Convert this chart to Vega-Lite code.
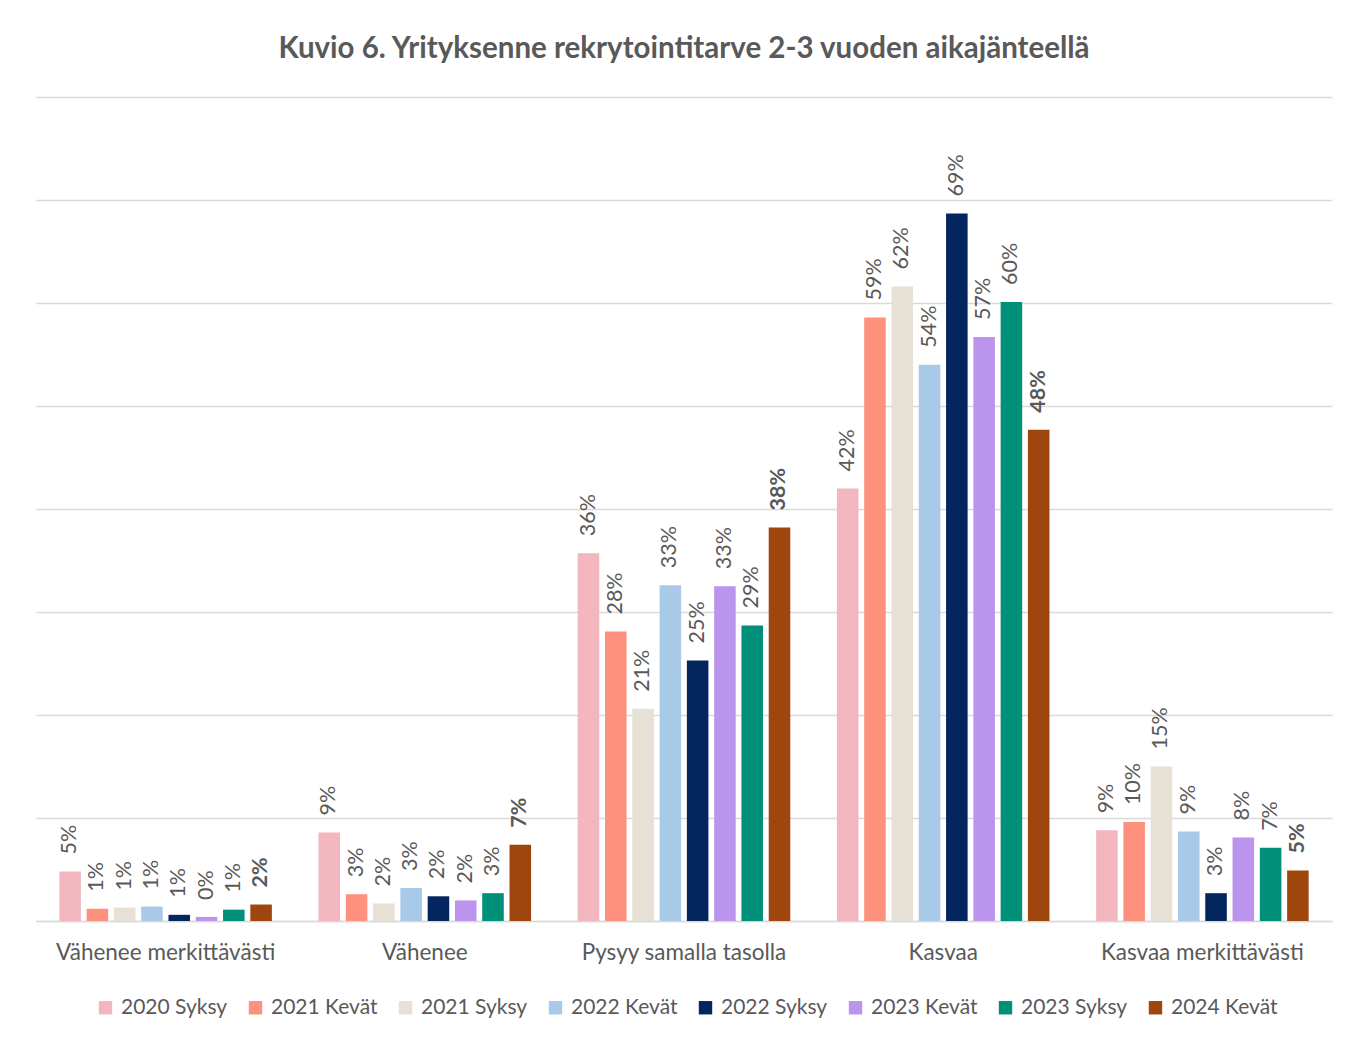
{
  "$schema": "https://vega.github.io/schema/vega-lite/v6.json",
  "width": 1296,
  "height": 824,
  "autosize": {"type": "none"},
  "padding": {"left": 36, "right": 35, "top": 97, "bottom": 120},
  "background": "white",
  "title": {
    "text": "Kuvio 6. Yrityksenne rekrytointitarve 2-3 vuoden aikajänteellä",
    "fontSize": 29.5,
    "fontWeight": "bold",
    "font": "Lato",
    "color": "#595959",
    "anchor": "middle",
    "offset": 33
  },
  "config": {
    "view": {"stroke": null},
    "font": "Lato"
  },
  "data": {
    "values": [
      {"k": "Vähenee merkittävästi", "s": "2020 Syksy", "v": 0.048},
      {"k": "Vähenee merkittävästi", "s": "2021 Kevät", "v": 0.012},
      {"k": "Vähenee merkittävästi", "s": "2021 Syksy", "v": 0.013},
      {"k": "Vähenee merkittävästi", "s": "2022 Kevät", "v": 0.014},
      {"k": "Vähenee merkittävästi", "s": "2022 Syksy", "v": 0.006},
      {"k": "Vähenee merkittävästi", "s": "2023 Kevät", "v": 0.004},
      {"k": "Vähenee merkittävästi", "s": "2023 Syksy", "v": 0.011},
      {"k": "Vähenee merkittävästi", "s": "2024 Kevät", "v": 0.016},
      {"k": "Vähenee", "s": "2020 Syksy", "v": 0.086},
      {"k": "Vähenee", "s": "2021 Kevät", "v": 0.026},
      {"k": "Vähenee", "s": "2021 Syksy", "v": 0.017},
      {"k": "Vähenee", "s": "2022 Kevät", "v": 0.032},
      {"k": "Vähenee", "s": "2022 Syksy", "v": 0.024},
      {"k": "Vähenee", "s": "2023 Kevät", "v": 0.020},
      {"k": "Vähenee", "s": "2023 Syksy", "v": 0.027},
      {"k": "Vähenee", "s": "2024 Kevät", "v": 0.074},
      {"k": "Pysyy samalla tasolla", "s": "2020 Syksy", "v": 0.357},
      {"k": "Pysyy samalla tasolla", "s": "2021 Kevät", "v": 0.281},
      {"k": "Pysyy samalla tasolla", "s": "2021 Syksy", "v": 0.206},
      {"k": "Pysyy samalla tasolla", "s": "2022 Kevät", "v": 0.326},
      {"k": "Pysyy samalla tasolla", "s": "2022 Syksy", "v": 0.253},
      {"k": "Pysyy samalla tasolla", "s": "2023 Kevät", "v": 0.325},
      {"k": "Pysyy samalla tasolla", "s": "2023 Syksy", "v": 0.287},
      {"k": "Pysyy samalla tasolla", "s": "2024 Kevät", "v": 0.382},
      {"k": "Kasvaa", "s": "2020 Syksy", "v": 0.420},
      {"k": "Kasvaa", "s": "2021 Kevät", "v": 0.586},
      {"k": "Kasvaa", "s": "2021 Syksy", "v": 0.616},
      {"k": "Kasvaa", "s": "2022 Kevät", "v": 0.540},
      {"k": "Kasvaa", "s": "2022 Syksy", "v": 0.687},
      {"k": "Kasvaa", "s": "2023 Kevät", "v": 0.567},
      {"k": "Kasvaa", "s": "2023 Syksy", "v": 0.601},
      {"k": "Kasvaa", "s": "2024 Kevät", "v": 0.477},
      {"k": "Kasvaa merkittävästi", "s": "2020 Syksy", "v": 0.088},
      {"k": "Kasvaa merkittävästi", "s": "2021 Kevät", "v": 0.096},
      {"k": "Kasvaa merkittävästi", "s": "2021 Syksy", "v": 0.150},
      {"k": "Kasvaa merkittävästi", "s": "2022 Kevät", "v": 0.087},
      {"k": "Kasvaa merkittävästi", "s": "2022 Syksy", "v": 0.027},
      {"k": "Kasvaa merkittävästi", "s": "2023 Kevät", "v": 0.081},
      {"k": "Kasvaa merkittävästi", "s": "2023 Syksy", "v": 0.071},
      {"k": "Kasvaa merkittävästi", "s": "2024 Kevät", "v": 0.049}
    ]
  },
  "encoding": {
    "x": {
      "field": "k",
      "type": "nominal",
      "sort": ["Vähenee merkittävästi", "Vähenee", "Pysyy samalla tasolla", "Kasvaa", "Kasvaa merkittävästi"],
      "scale": {"paddingInner": 0.18, "paddingOuter": 0.09},
      "axis": {
        "title": null,
        "labelAngle": 0,
        "ticks": false,
        "domain": true,
        "domainColor": "#D9D9D9",
        "domainWidth": 1.5,
        "labelFontSize": 22.5,
        "labelColor": "#595959",
        "labelFont": "Lato",
        "labelPadding": 20,
        "labelLimit": 0
      }
    },
    "xOffset": {
      "field": "s",
      "type": "nominal",
      "sort": ["2020 Syksy", "2021 Kevät", "2021 Syksy", "2022 Kevät", "2022 Syksy", "2023 Kevät", "2023 Syksy", "2024 Kevät"],
      "scale": {"paddingInner": 0.21, "paddingOuter": 0}
    },
    "y": {
      "field": "v",
      "type": "quantitative",
      "scale": {"domain": [0, 0.8], "nice": false},
      "axis": {
        "title": null,
        "values": [0, 0.1, 0.2, 0.3, 0.4, 0.5, 0.6, 0.7, 0.8],
        "labels": false,
        "ticks": false,
        "domain": false,
        "grid": true,
        "gridColor": "#D9D9D9",
        "gridWidth": 1.5
      }
    }
  },
  "layer": [
    {
      "mark": {"type": "bar"},
      "encoding": {
        "color": {
          "field": "s",
          "type": "nominal",
          "scale": {
            "domain": ["2020 Syksy", "2021 Kevät", "2021 Syksy", "2022 Kevät", "2022 Syksy", "2023 Kevät", "2023 Syksy", "2024 Kevät"],
            "range": ["#F2B6BF", "#FE917E", "#E7E0D4", "#A8C9E7", "#03265F", "#BB94EE", "#008F79", "#9E460E"]
          },
          "legend": {
            "title": null,
            "orient": "none",
            "legendX": 59,
            "legendY": 900,
            "direction": "horizontal",
            "symbolType": "square",
            "symbolSize": 180,
            "symbolStrokeWidth": 0,
            "labelFontSize": 21,
            "labelColor": "#595959",
            "labelFont": "Lato",
            "labelOffset": 5,
            "columnPadding": 17,
            "labelLimit": 0
          }
        }
      }
    },
    {
      "transform": [{"filter": "datum.s !== '2024 Kevät'"}],
      "mark": {"type": "text", "angle": 270, "align": "left", "baseline": "middle", "dx": 17, "fontSize": 21.5, "color": "#595959", "font": "Lato"},
      "encoding": {"text": {"field": "v", "type": "quantitative", "format": ".0%"}}
    },
    {
      "transform": [{"filter": "datum.s === '2024 Kevät'"}],
      "mark": {"type": "text", "angle": 270, "align": "left", "baseline": "middle", "dx": 17, "fontSize": 21.5, "fontWeight": "bold", "color": "#595959", "font": "Lato"},
      "encoding": {"text": {"field": "v", "type": "quantitative", "format": ".0%"}}
    }
  ]
}
